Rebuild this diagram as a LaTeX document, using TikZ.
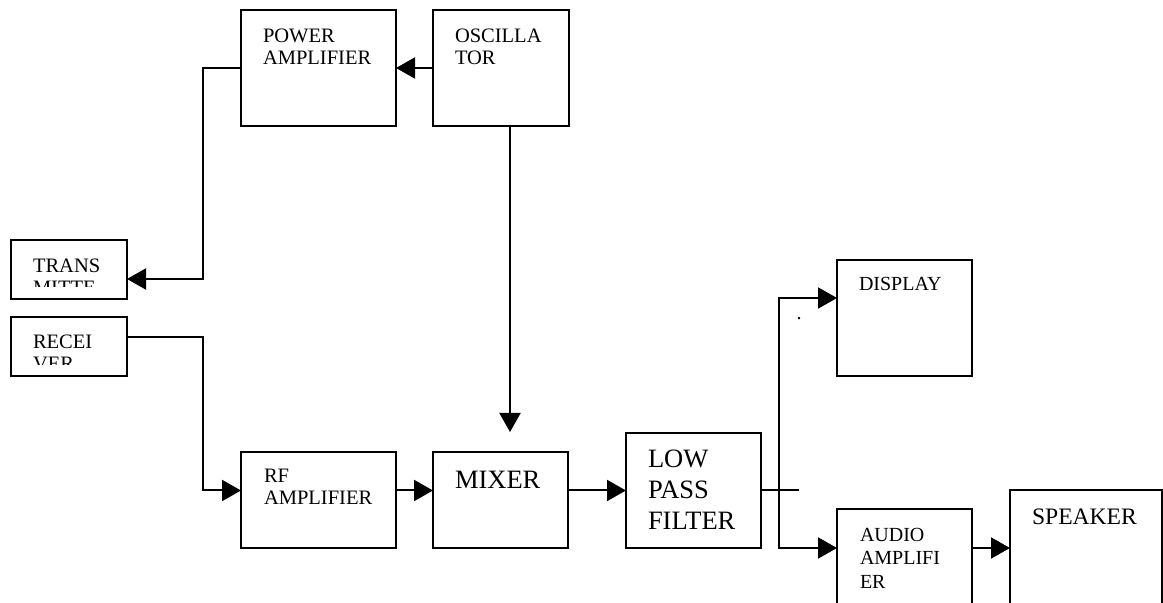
\documentclass[tikz,border=0pt]{standalone}
\usepackage{fontspec}
\setmainfont{Liberation Serif}
\usetikzlibrary{arrows.meta, calc}

\begin{document}
\begin{tikzpicture}[x=0.5pt, y=-0.5pt, line width=1pt,
  blk/.style={draw, anchor=north west, inner sep=0pt, outer sep=0pt},
  lbl/.style={anchor=north west, inner sep=0pt, align=left, font=\fontsize{10.25}{11}\selectfont},
  midtxt/.style={font=\fontsize{10}{11.75}\selectfont},
  bigtxt/.style={font=\fontsize{13.25}{15.5}\selectfont},
  arr/.style={-{Triangle[length=9.5pt, width=10.5pt]}}]
  \clip (0,0) rectangle (1163,603);

  % blocks
  \node[blk, minimum width=77.5pt, minimum height=58pt] (pa) at (241,10) {};
  \node[blk, minimum width=68pt, minimum height=58pt] (osc) at (433,10) {};
  \node[blk, minimum width=58pt, minimum height=29.5pt] (trans) at (11,240) {};
  \node[blk, minimum width=58pt, minimum height=29.5pt] (recv) at (11,317) {};
  \node[blk, minimum width=77.5pt, minimum height=48pt] (rf) at (241,452) {};
  \node[blk, minimum width=67.5pt, minimum height=48pt] (mix) at (433,452) {};
  \node[blk, minimum width=67.5pt, minimum height=57.5pt] (lpf) at (626,433) {};
  \node[blk, minimum width=67.5pt, minimum height=58pt] (disp) at (837,260) {};
  \node[blk, minimum width=67.5pt, minimum height=60pt] (aud) at (837,509) {};
  \node[blk, minimum width=76pt, minimum height=70pt] (spk) at (1010,490) {};

  % texts
  \node[lbl] (pa-t) at ($(pa.north west)+(21,18)$) {POWER\\AMPLIFIER};
  \node[lbl] (osc-t) at ($(osc.north west)+(21,18)$) {OSCILLA\\TOR};
  \begin{scope}
    \clip (trans.north west) rectangle ($(trans.south east)+(0,-12)$);
    \node[lbl] (trans-t) at ($(trans.north west)+(21,18)$) {TRANS\\MITTE};
  \end{scope}
  \begin{scope}
    \clip (recv.north west) rectangle ($(recv.south east)+(0,-11)$);
    \node[lbl] (recv-t) at ($(recv.north west)+(21,17)$) {RECEI\\VER};
  \end{scope}
  \node[lbl] (rf-t) at ($(rf.north west)+(22,16)$) {RF\\AMPLIFIER};
  \node[lbl, bigtxt] (mix-t) at ($(mix.north west)+(21,18)$) {MIXER};
  \node[lbl, bigtxt] (lpf-t) at ($(lpf.north west)+(21,16)$) {LOW\\PASS\\FILTER};
  \node[lbl, midtxt] (disp-t) at ($(disp.north west)+(21,16)$) {DISPLAY};
  \node[lbl, midtxt] (aud-t) at ($(aud.north west)+(22,18)$) {AUDIO\\AMPLIFI\\ER};
  \node[lbl, font=\fontsize{11.8}{14}\selectfont] (spk-t) at ($(spk.north west)+(21,18)$) {SPEAKER};
  \node[anchor=base, inner sep=0pt, font=\fontsize{10}{11}\selectfont] (dot) at (799,320) {.};

  % connectors
  \coordinate (mixin) at (510,432);
  \draw[arr] (osc.west) -- (pa.east);
  \draw[arr] (pa.west) -- ++(-38,0) |- ($(trans.east)+(0,9.5)$);
  \draw[arr] (osc.south -| mixin) -- (mixin);
  \draw[arr] ($(recv.east)+(0,-9.5)$) -| ($(rf.west |- lpf.west)+(-38,0)$) -- (rf.west |- lpf.west);
  \draw[arr] (rf.east |- lpf.west) -- (mix.west |- lpf.west);
  \draw[arr] (mix.east |- lpf.west) -- (lpf.west);
  \draw (lpf.east) -- ++(38,0);
  \draw[arr] ($(lpf.east)+(18,0)$) |- ($(disp.west)+(0,-20)$);
  \draw[arr] ($(lpf.east)+(18,0)$) |- ($(aud.north west)+(0,39)$);
  \draw[arr] ($(aud.north east)+(0,39)$) -- ($(spk.north west)+(0,58)$);
\end{tikzpicture}
\end{document}
